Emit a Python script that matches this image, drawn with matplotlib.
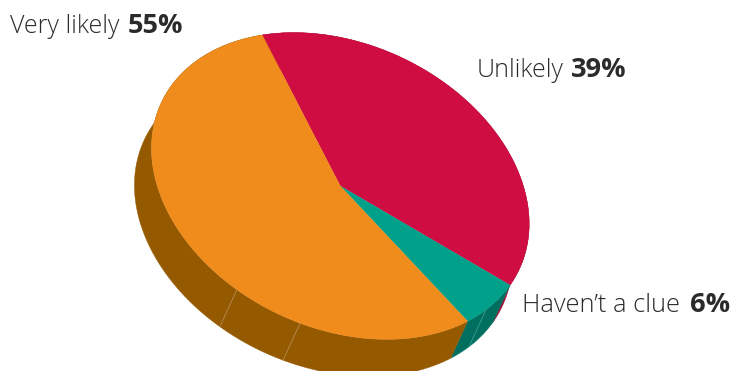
import numpy as np
import matplotlib
matplotlib.use('Agg')
import matplotlib.pyplot as plot
from matplotlib.patches import Wedge, Polygon
from matplotlib.transforms import Affine2D

# slices in drawing order, going round from the orange/red edge
labels = ['Unlikely', "Haven\u2019t a clue", 'Very likely']
shares = [39, 6, 55]
top_colors = ['#cf0d42', '#00a08a', '#f08c1c']
side_colors = ['#a00a35', '#006f60', '#955900']

# seams on the rim, in degrees round the pie
seam_angles = [153.9, 216.7, 237.6]

center = np.array([340.3, 186.0])
axis_u = np.array([-78.0, -151.0])   # tilted pie: where the unit x axis lands
axis_v = np.array([172.0, -27.0])
depth = np.array([-17.0, 37.0])


def rim(angle):
    a = np.radians(angle)
    return center + np.outer(np.cos(a), axis_u) + np.outer(np.sin(a), axis_v)


figure = plot.figure(figsize=(7.32, 3.71), dpi=100)
ax = figure.add_axes([0, 0, 1, 1])
ax.set_xlim(0, 732)
ax.set_ylim(371, 0)
ax.axis('off')

tilt = Affine2D(np.array([[axis_u[0], axis_v[0], center[0]],
                          [axis_u[1], axis_v[1], center[1]],
                          [0, 0, 1]])) + ax.transData

edges = np.concatenate([[0], np.cumsum(shares) * 3.6])

# rim first, the top face goes over it
for i in range(len(shares)):
    arc = rim(np.linspace(edges[i], edges[i + 1], 200))
    ax.add_patch(Polygon(np.vstack([arc, (arc + depth)[::-1]]), closed=True,
                         facecolor=side_colors[i], edgecolor=side_colors[i], linewidth=0.3))

for angle, color in zip(seam_angles, ['#3f9c8e', '#b58c55', '#b58c55']):
    start = rim(np.array([angle]))[0]
    end = start + depth
    ax.plot([start[0], end[0]], [start[1], end[1]], color=color, linewidth=0.6)

for i in range(len(shares)):
    ax.add_patch(Wedge((0, 0), 1, edges[i], edges[i + 1], transform=tilt,
                       facecolor=top_colors[i], edgecolor=top_colors[i], linewidth=0.2))

# labels: plain name followed by the bold percentage
font = 'Open Sans'
text_color = '#2b2b2b'
name_pos = [(477, 77), (522, 312), (10, 33)]
name_size = [18, 18.3, 18]
value_x = [571, 690, 128]
for i in range(len(shares)):
    ax.text(name_pos[i][0], name_pos[i][1], labels[i], family=font, fontsize=name_size[i],
            color=text_color, va='baseline', ha='left', fontweight='light')
    ax.text(value_x[i], name_pos[i][1], '%d%%' % shares[i], family=font, fontsize=19.5,
            color=text_color, va='baseline', ha='left', fontweight='bold')

figure.savefig('out.png', dpi=100)
